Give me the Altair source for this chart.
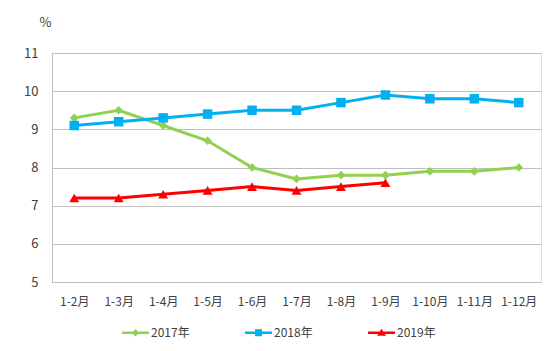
import altair as alt
import pandas as pd

months = ["1-2月", "1-3月", "1-4月", "1-5月", "1-6月", "1-7月", "1-8月", "1-9月", "1-10月", "1-11月", "1-12月"]
series_names = ["2017年", "2018年", "2019年"]
v2017 = [9.3, 9.5, 9.1, 8.7, 8.0, 7.7, 7.8, 7.8, 7.9, 7.9, 8.0]
v2018 = [9.1, 9.2, 9.3, 9.4, 9.5, 9.5, 9.7, 9.9, 9.8, 9.8, 9.7]
v2019 = [7.2, 7.2, 7.3, 7.4, 7.5, 7.4, 7.5, 7.6]
colors = ["#92D050", "#00B0F0", "#FF0000"]
marker_shapes = ["diamond", "square", "triangle-up"]
marker_sizes = [75, 90, 100]

# legend glyphs: a short line with the series marker on it
legend_shapes = [
    "M-1,-0.1H1V0.1H-1Z M0,-0.27L0.27,0L0,0.27L-0.27,0Z",
    "M-1,-0.1H1V0.1H-1Z M-0.26,-0.26H0.26V0.26H-0.26Z",
    "M-1,-0.1H1V0.1H-1Z M0,-0.3L0.33,0.22L-0.33,0.22Z",
]

rows = []
for name, vals in zip(series_names, [v2017, v2018, v2019]):
    for m, v in zip(months, vals):
        rows.append({"month": m, "series": name, "value": v})
df = pd.DataFrame(rows)

FONT = "Noto Sans CJK SC"

color_scale = alt.Scale(domain=series_names, range=colors)

legend = alt.Legend(
    title=None,
    orient="none",
    legendX=70,
    legendY=266,
    direction="horizontal",
    columns=3,
    columnPadding=55,
    symbolSize=729,
    symbolStrokeWidth=0,
    symbolOpacity=1,
    labelFont=FONT,
    labelFontSize=12,
    labelColor="#404040",
    labelOffset=2,
)

x_enc = alt.X(
    "month:N",
    sort=months,
    scale=alt.Scale(domain=months, paddingInner=0, paddingOuter=0.5),
    axis=alt.Axis(
        title=None,
        labelAngle=0,
        labelFont=FONT,
        labelFontSize=12,
        labelColor="#404040",
        labelPadding=14,
        ticks=False,
        domainColor="#BFBFBF",
        domainWidth=1,
        grid=False,
    ),
)

y_enc = alt.Y(
    "value:Q",
    scale=alt.Scale(domain=[5, 11], nice=False, zero=False),
    axis=alt.Axis(
        title="%",
        titleAngle=0,
        titleX=-7,
        titleY=-31,
        titleAlign="center",
        titleBaseline="middle",
        titleFont=FONT,
        titleFontSize=13,
        titleFontWeight="normal",
        titleColor="#404040",
        values=[5, 6, 7, 8, 9, 10, 11],
        labelFont=FONT,
        labelFontSize=13,
        labelColor="#404040",
        labelPadding=14,
        ticks=False,
        domainColor="#BFBFBF",
        domainWidth=1,
        gridColor="#BFBFBF",
        gridWidth=1,
    ),
)

color_enc = alt.Color("series:N", scale=color_scale, legend=legend)

lines = alt.Chart(df).mark_line(strokeWidth=3).encode(
    x=x_enc, y=y_enc, color=color_enc, detail="series:N",
)

layers = [lines]
for name, shp, sz in zip(series_names, marker_shapes, marker_sizes):
    layers.append(
        alt.Chart(df)
        .transform_filter(alt.datum.series == name)
        .mark_point(filled=True, shape=shp, size=sz, opacity=1)
        .encode(x=x_enc, y=y_enc, color=color_enc)
    )

legend_layer = (
    alt.Chart(df)
    .transform_filter("false")
    .mark_point(filled=True, size=729)
    .encode(
        color=color_enc,
        shape=alt.Shape("series:N", scale=alt.Scale(domain=series_names, range=legend_shapes), legend=legend),
    )
)
layers.append(legend_layer)

chart = (
    alt.layer(*layers)
    .properties(
        width=489,
        height=229,
        autosize=alt.AutoSizeParams(type="none"),
        padding={"left": 52, "top": 53, "right": 16, "bottom": 69},
    )
    .configure_view(stroke=None)
    .configure(background="white")
)

chart.save("out.html", embed_options={"renderer": "svg", "actions": False})
